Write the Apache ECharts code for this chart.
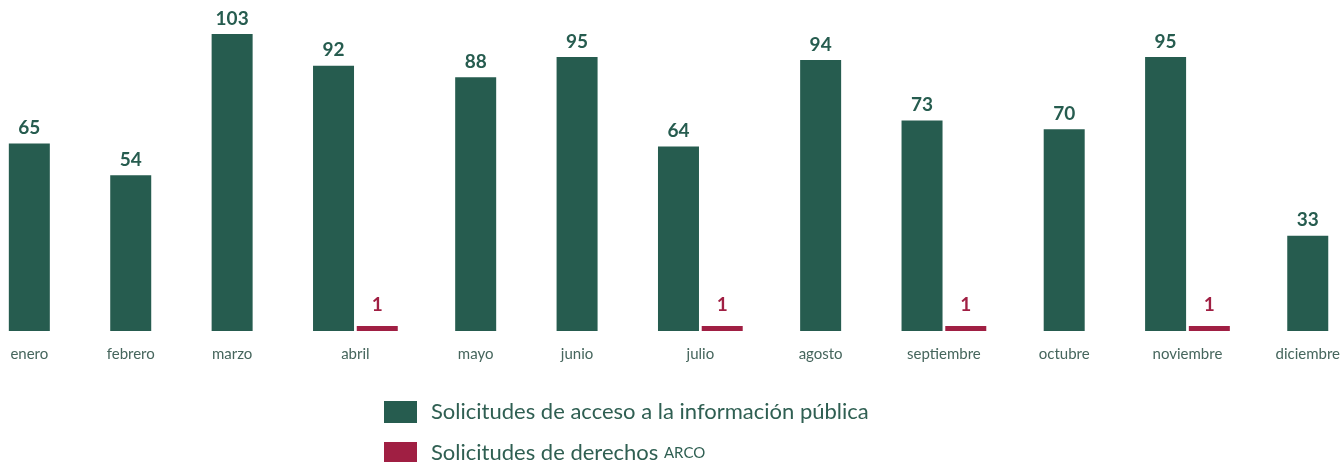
<!DOCTYPE html>
<html>
<head>
<meta charset="utf-8">
<script src="https://cdn.jsdelivr.net/npm/echarts@6/dist/echarts.min.js"></script>
<style>
  html, body { margin: 0; padding: 0; background: #fff; }
  #chart { width: 1343px; height: 462px; }
</style>
</head>
<body>
<div id="chart"></div>
<script>
// datos
const months = ["enero", "febrero", "marzo", "abril", "mayo", "junio", "julio",
  "agosto", "septiembre", "octubre", "noviembre", "diciembre"];
const acceso = [65, 54, 103, 92, 88, 95, 64, 94, 73, 70, 95, 33];
const arco = [0, 0, 0, 1, 0, 0, 1, 0, 1, 0, 1, 0];
const seriesNames = ["Solicitudes de acceso a la información pública", "Solicitudes de derechos ARCO"];

const GREEN = "#265c4f";
const RED = "#a01f43";

// months without ARCO requests collapse (no empty slot), like the original
const greenX = [], redX = [], labelX = [];
let pos = 29.5;
months.forEach((m, i) => {
  greenX.push(pos);
  redX.push(pos + 44);
  labelX.push(arco[i] > 0 ? pos + 22 : pos);
  pos += arco[i] > 0 ? 143 : 102;
});

const chart = echarts.init(document.getElementById("chart"));
const font = "Lato";

const option = {
  animation: false,
  textStyle: { fontFamily: font },
  grid: { left: 0, right: 0, top: 34, bottom: 131 },
  xAxis: {
    type: "value",
    min: 0,
    max: 1343,
    splitLine: { show: false },
    axisLine: { show: false },
    axisTick: { show: false },
    axisLabel: {
      customValues: labelX,
      margin: 16,
      fontSize: 15,
      color: "#46665d",
      formatter: function (v) {
        const i = labelX.findIndex(x => Math.abs(x - v) < 0.6);
        return i >= 0 ? months[i] : "";
      }
    }
  },
  yAxis: {
    type: "value",
    min: 0,
    max: 103,
    show: false
  },
  legend: {
    orient: "vertical",
    left: 384,
    top: 401,
    height: 90,
    padding: 0,
    itemWidth: 33,
    itemHeight: 22,
    itemGap: 19,
    icon: "rect",
    textStyle: {
      fontSize: 22,
      color: "#2f5f52",
      rich: {
        a: { fontSize: 22, color: "#2f5f52", padding: [0, 0, 0, 9] },
        s: { fontSize: 15, color: "#2f5f52" }
      }
    },
    formatter: function (name) {
      if (name === seriesNames[1]) return "{a|Solicitudes de derechos }{s|ARCO}";
      return "{a|" + name + "}";
    },
    data: seriesNames
  },
  series: [
    {
      name: seriesNames[0],
      type: "bar",
      barWidth: 41,
      barGap: "-100%",
      itemStyle: { color: GREEN },
      label: {
        show: true,
        position: "top",
        distance: 6,
        fontSize: 19,
        fontWeight: "bold",
        color: GREEN
      },
      data: acceso.map((v, i) => [greenX[i], v])
    },
    {
      name: seriesNames[1],
      type: "bar",
      barWidth: 41,
      barGap: "-100%",
      barMinHeight: 5,
      itemStyle: { color: RED },
      label: {
        show: true,
        position: "top",
        distance: 12,
        fontSize: 19,
        fontWeight: "bold",
        color: RED
      },
      data: arco.map((v, i) => [redX[i], v]).filter(d => d[1] > 0)
    }
  ]
};

chart.setOption(option);
window.addEventListener("resize", () => chart.resize());
</script>
</body>
</html>
